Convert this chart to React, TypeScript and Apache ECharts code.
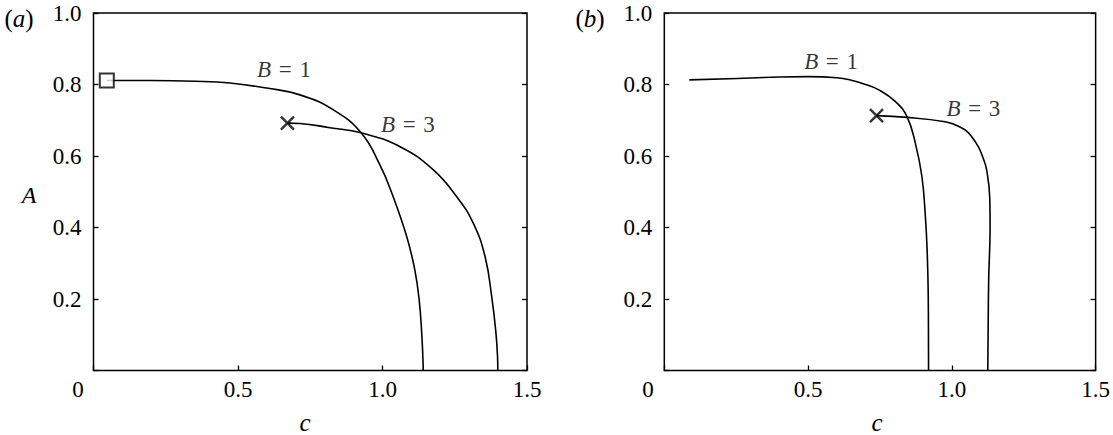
import { useEffect, useRef } from "react";
import * as echarts from "echarts";

const SERIF = "Liberation Serif";

// panel (a)
const A_B1_C = [0.046, 0.2, 0.35, 0.472, 0.6, 0.7145, 0.83, 0.926, 0.991, 1.037, 1.084, 1.112, 1.127, 1.136, 1.14, 1.141];
const A_B1_A = [0.811, 0.811, 0.809, 0.804, 0.79, 0.771, 0.729, 0.665, 0.575, 0.486, 0.374, 0.281, 0.197, 0.1, 0.03, 0.0];
const A_B3_C = [0.671, 0.7145, 0.818, 0.926, 1.061, 1.176, 1.257, 1.314, 1.355, 1.378, 1.392, 1.398, 1.399];
const A_B3_A = [0.692, 0.691, 0.679, 0.665, 0.626, 0.561, 0.486, 0.412, 0.318, 0.206, 0.11, 0.04, 0.0];

// panel (b)
const B_B1_C = [0.087, 0.3, 0.4, 0.5, 0.6, 0.65, 0.7, 0.746, 0.804, 0.844, 0.873, 0.896, 0.908, 0.914, 0.918, 0.919];
const B_B1_A = [0.813, 0.818, 0.821, 0.822, 0.819, 0.812, 0.8, 0.785, 0.752, 0.71, 0.636, 0.542, 0.43, 0.337, 0.2, 0.0];
const B_B3_C = [0.738, 0.844, 0.977, 1.012, 1.046, 1.069, 1.092, 1.107, 1.121, 1.132, 1.133, 1.128, 1.125];
const B_B3_A = [0.713, 0.708, 0.696, 0.687, 0.673, 0.654, 0.626, 0.598, 0.561, 0.48, 0.4, 0.25, 0.0];

const SQUARE_A: [number, number] = [0.046, 0.811];
const CROSS_A: [number, number] = [0.671, 0.692];
const CROSS_B: [number, number] = [0.738, 0.713];

const CURVE_LABELS = [
  { panel: 0, name: "1", at: [0.659, 0.843] },
  { panel: 0, name: "3", at: [1.088, 0.689] },
  { panel: 1, name: "1", at: [0.58, 0.863] },
  { panel: 1, name: "3", at: [1.075, 0.734] },
];

const X_TICKS = { min: 0, max: 1.5, interval: 0.5 };
const Y_TICKS = { min: 0, max: 1.0, interval: 0.2 };

const zip = (xs: number[], ys: number[]) => xs.map((x, i) => [x, ys[i]]);

const fmt = (v: number) => (v === 0 ? "" : v.toFixed(1));

export default function App() {
  const ref = useRef<HTMLDivElement | null>(null);

  useEffect(() => {
    if (!ref.current) return;
    const chart = echarts.init(ref.current, null, { renderer: "svg" });

    const grids = [
      { left: 93.5, top: 13, width: 433.5, height: 357.5 },
      { left: 664.3, top: 13, width: 434, height: 357.5 },
    ].map((g) => ({
      ...g,
      show: true,
      borderColor: "#000",
      borderWidth: 1.5,
      backgroundColor: "transparent",
    }));

    const tick = { show: true, inside: true, length: 5, lineStyle: { color: "#000", width: 1.3 } };

    const xAxis = [0, 1].map((gi) => ({
      type: "value",
      gridIndex: gi,
      ...X_TICKS,
      axisLine: { show: false },
      axisTick: tick,
      splitLine: { show: false },
      axisLabel: { formatter: fmt, margin: 7, color: "#000", fontSize: 23, fontFamily: SERIF },
    }));

    const yAxis: any[] = [];
    [0, 1].forEach((gi) => {
      yAxis.push({
        type: "value",
        gridIndex: gi,
        position: "left",
        ...Y_TICKS,
        axisLine: { show: false },
        axisTick: tick,
        splitLine: { show: false },
        axisLabel: { formatter: fmt, margin: 12, color: "#000", fontSize: 23, fontFamily: SERIF },
      });
      yAxis.push({
        type: "value",
        gridIndex: gi,
        position: "right",
        ...Y_TICKS,
        axisLine: { show: false },
        axisTick: tick,
        splitLine: { show: false },
        axisLabel: { show: false },
      });
    });

    const line = (panel: number, data: number[][]) => ({
      type: "line",
      xAxisIndex: panel,
      yAxisIndex: panel * 2,
      data,
      smooth: 0.45,
      showSymbol: false,
      lineStyle: { color: "#000", width: 1.6 },
      z: 2,
    });

    const cross = (panel: number, p: [number, number]) => ({
      type: "scatter",
      xAxisIndex: panel,
      yAxisIndex: panel * 2,
      data: [p],
      symbol: "path://M0,0L10,10M10,0L0,10",
      symbolSize: 13,
      itemStyle: { color: "transparent", borderColor: "#000", borderWidth: 2.4 },
      z: 4,
    });

    const series: any[] = [
      line(0, zip(A_B1_C, A_B1_A)),
      line(0, zip(A_B3_C, A_B3_A)),
      line(1, zip(B_B1_C, B_B1_A)),
      line(1, zip(B_B3_C, B_B3_A)),
      {
        type: "scatter",
        xAxisIndex: 0,
        yAxisIndex: 0,
        data: [SQUARE_A],
        symbol: "rect",
        symbolSize: 14,
        itemStyle: { color: "#fff", borderColor: "#000", borderWidth: 2 },
        z: 4,
      },
      cross(0, CROSS_A),
      cross(1, CROSS_B),
      ...CURVE_LABELS.map((l) => ({
        type: "scatter",
        xAxisIndex: l.panel,
        yAxisIndex: l.panel * 2,
        symbolSize: 1,
        itemStyle: { color: "transparent" },
        data: [{ value: l.at, name: l.name }],
        label: {
          show: true,
          position: "inside",
          formatter: (p: any) => `{i|B}\u2004=\u2004${p.name}`,
          color: "#000",
          fontSize: 23,
          fontFamily: SERIF,
          rich: { i: { fontStyle: "italic", fontSize: 23, fontFamily: SERIF, color: "#000" } },
        },
        z: 5,
      })),
    ];

    const txt = (x: number, y: number, text: string, size: number, italic = false, rich?: any) => ({
      type: "text",
      x,
      y,
      style: {
        text,
        fill: "#000",
        fontSize: size,
        fontFamily: SERIF,
        fontStyle: italic ? "italic" : "normal",
        align: "center",
        verticalAlign: "middle",
        rich,
      },
    });

    const richItalic = { i: { fontStyle: "italic", fontSize: 25, fontFamily: SERIF, fill: "#000" } };

    chart.setOption({
      animation: false,
      backgroundColor: "#fff",
      grid: grids,
      xAxis,
      yAxis,
      series,
      graphic: [
        txt(19, 18, "({i|a})", 25, false, richItalic),
        txt(590, 18, "({i|b})", 25, false, richItalic),
        txt(78, 389, "0", 23),
        txt(648, 389, "0", 23),
        txt(29, 195, "A", 24, true),
        txt(305, 422, "c", 25, true),
        txt(877, 422, "c", 25, true),
      ],
    });

    return () => chart.dispose();
  }, []);

  return (
    <div
      ref={ref}
      style={{ position: "fixed", left: 0, top: 0, width: 1113, height: 435, background: "#fff" }}
    />
  );
}
